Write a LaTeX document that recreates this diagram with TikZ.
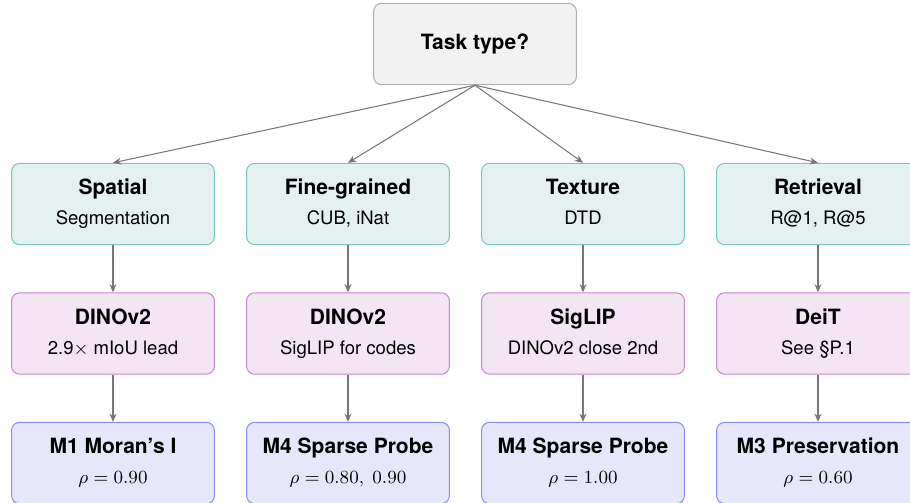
\documentclass[tikz,border=0pt]{standalone}
\usepackage[no-math]{fontspec}
\newfontfamily\heros{TeX Gyre Heros}
\usetikzlibrary{arrows.meta}
\definecolor{topfill}{HTML}{F2F2F2}
\definecolor{topdraw}{HTML}{B0B0B0}
\definecolor{tealfill}{HTML}{E3F1F0}
\definecolor{tealdraw}{HTML}{7CC4BE}
\definecolor{pinkfill}{HTML}{F3E5F3}
\definecolor{pinkdraw}{HTML}{C68ACA}
\definecolor{bluefill}{HTML}{E7E7FC}
\definecolor{bluedraw}{HTML}{8C8CF2}
\definecolor{arrgray}{HTML}{767676}
\newcommand{\ttl}[1]{{\fontsize{10.2}{12}\selectfont\bfseries\vphantom{Ag}#1}}
\newcommand{\sub}[1]{{\fontsize{9}{11}\selectfont\vphantom{Ag}#1}}
\newcommand{\boxtext}[2]{\ttl{#1}\\[2.6pt]\sub{#2}}
\begin{document}
\begin{tikzpicture}[x=0.4854pt,y=-0.4854pt,
  box/.style={draw, rounded corners=4pt, minimum width=98.5pt, minimum height=39.5pt,
    align=center, line width=0.5pt, inner sep=0pt, font=\heros},
  topbox/.style={box, fill=topfill, draw=topdraw},
  taskbox/.style={box, fill=tealfill, draw=tealdraw},
  modelbox/.style={box, fill=pinkfill, draw=pinkdraw},
  metricbox/.style={box, fill=bluefill, draw=bluedraw},
  arr/.style={draw=arrgray, line width=0.5pt, -{Stealth[length=4pt,width=3.4pt]}}]
\useasboundingbox (0,0) rectangle (910,502);
\clip (0,0) rectangle (910,502);

\node[topbox] (top) at (475,44) {\ttl{Task type?}};

\node[taskbox] (t1) at (113,204) {\boxtext{Spatial}{Segmentation}};
\node[taskbox] (t2) at (348,204) {\boxtext{Fine-grained}{CUB, iNat}};
\node[taskbox] (t3) at (583,204) {\boxtext{Texture}{DTD}};
\node[taskbox] (t4) at (818,204) {\boxtext{Retrieval}{R@1, R@5}};

\node[modelbox] (m1) at (113,333.5) {\boxtext{DINOv2}{2.9$\times$ mIoU lead}};
\node[modelbox] (m2) at (348,333.5) {\boxtext{DINOv2}{SigLIP for codes}};
\node[modelbox] (m3) at (583,333.5) {\boxtext{SigLIP}{DINOv2 close 2nd}};
\node[modelbox] (m4) at (818,333.5) {\boxtext{DeiT}{See §P.1}};

\node[metricbox] (r1) at (113,463) {\boxtext{M1 Moran’s I}{$\rho = 0.90$}};
\node[metricbox] (r2) at (348,463) {\boxtext{M4 Sparse Probe}{$\rho = 0.80,\ 0.90$}};
\node[metricbox] (r3) at (583,463) {\boxtext{M4 Sparse Probe}{$\rho = 1.00$}};
\node[metricbox] (r4) at (818,463) {\boxtext{M3 Preservation}{$\rho = 0.60$}};

\foreach \i in {1,2,3,4} {
  \draw[arr] (top.south) -- (t\i.north);
  \draw[arr] (t\i.south) -- (m\i.north);
  \draw[arr] (m\i.south) -- (r\i.north);
}
\end{tikzpicture}
\end{document}
